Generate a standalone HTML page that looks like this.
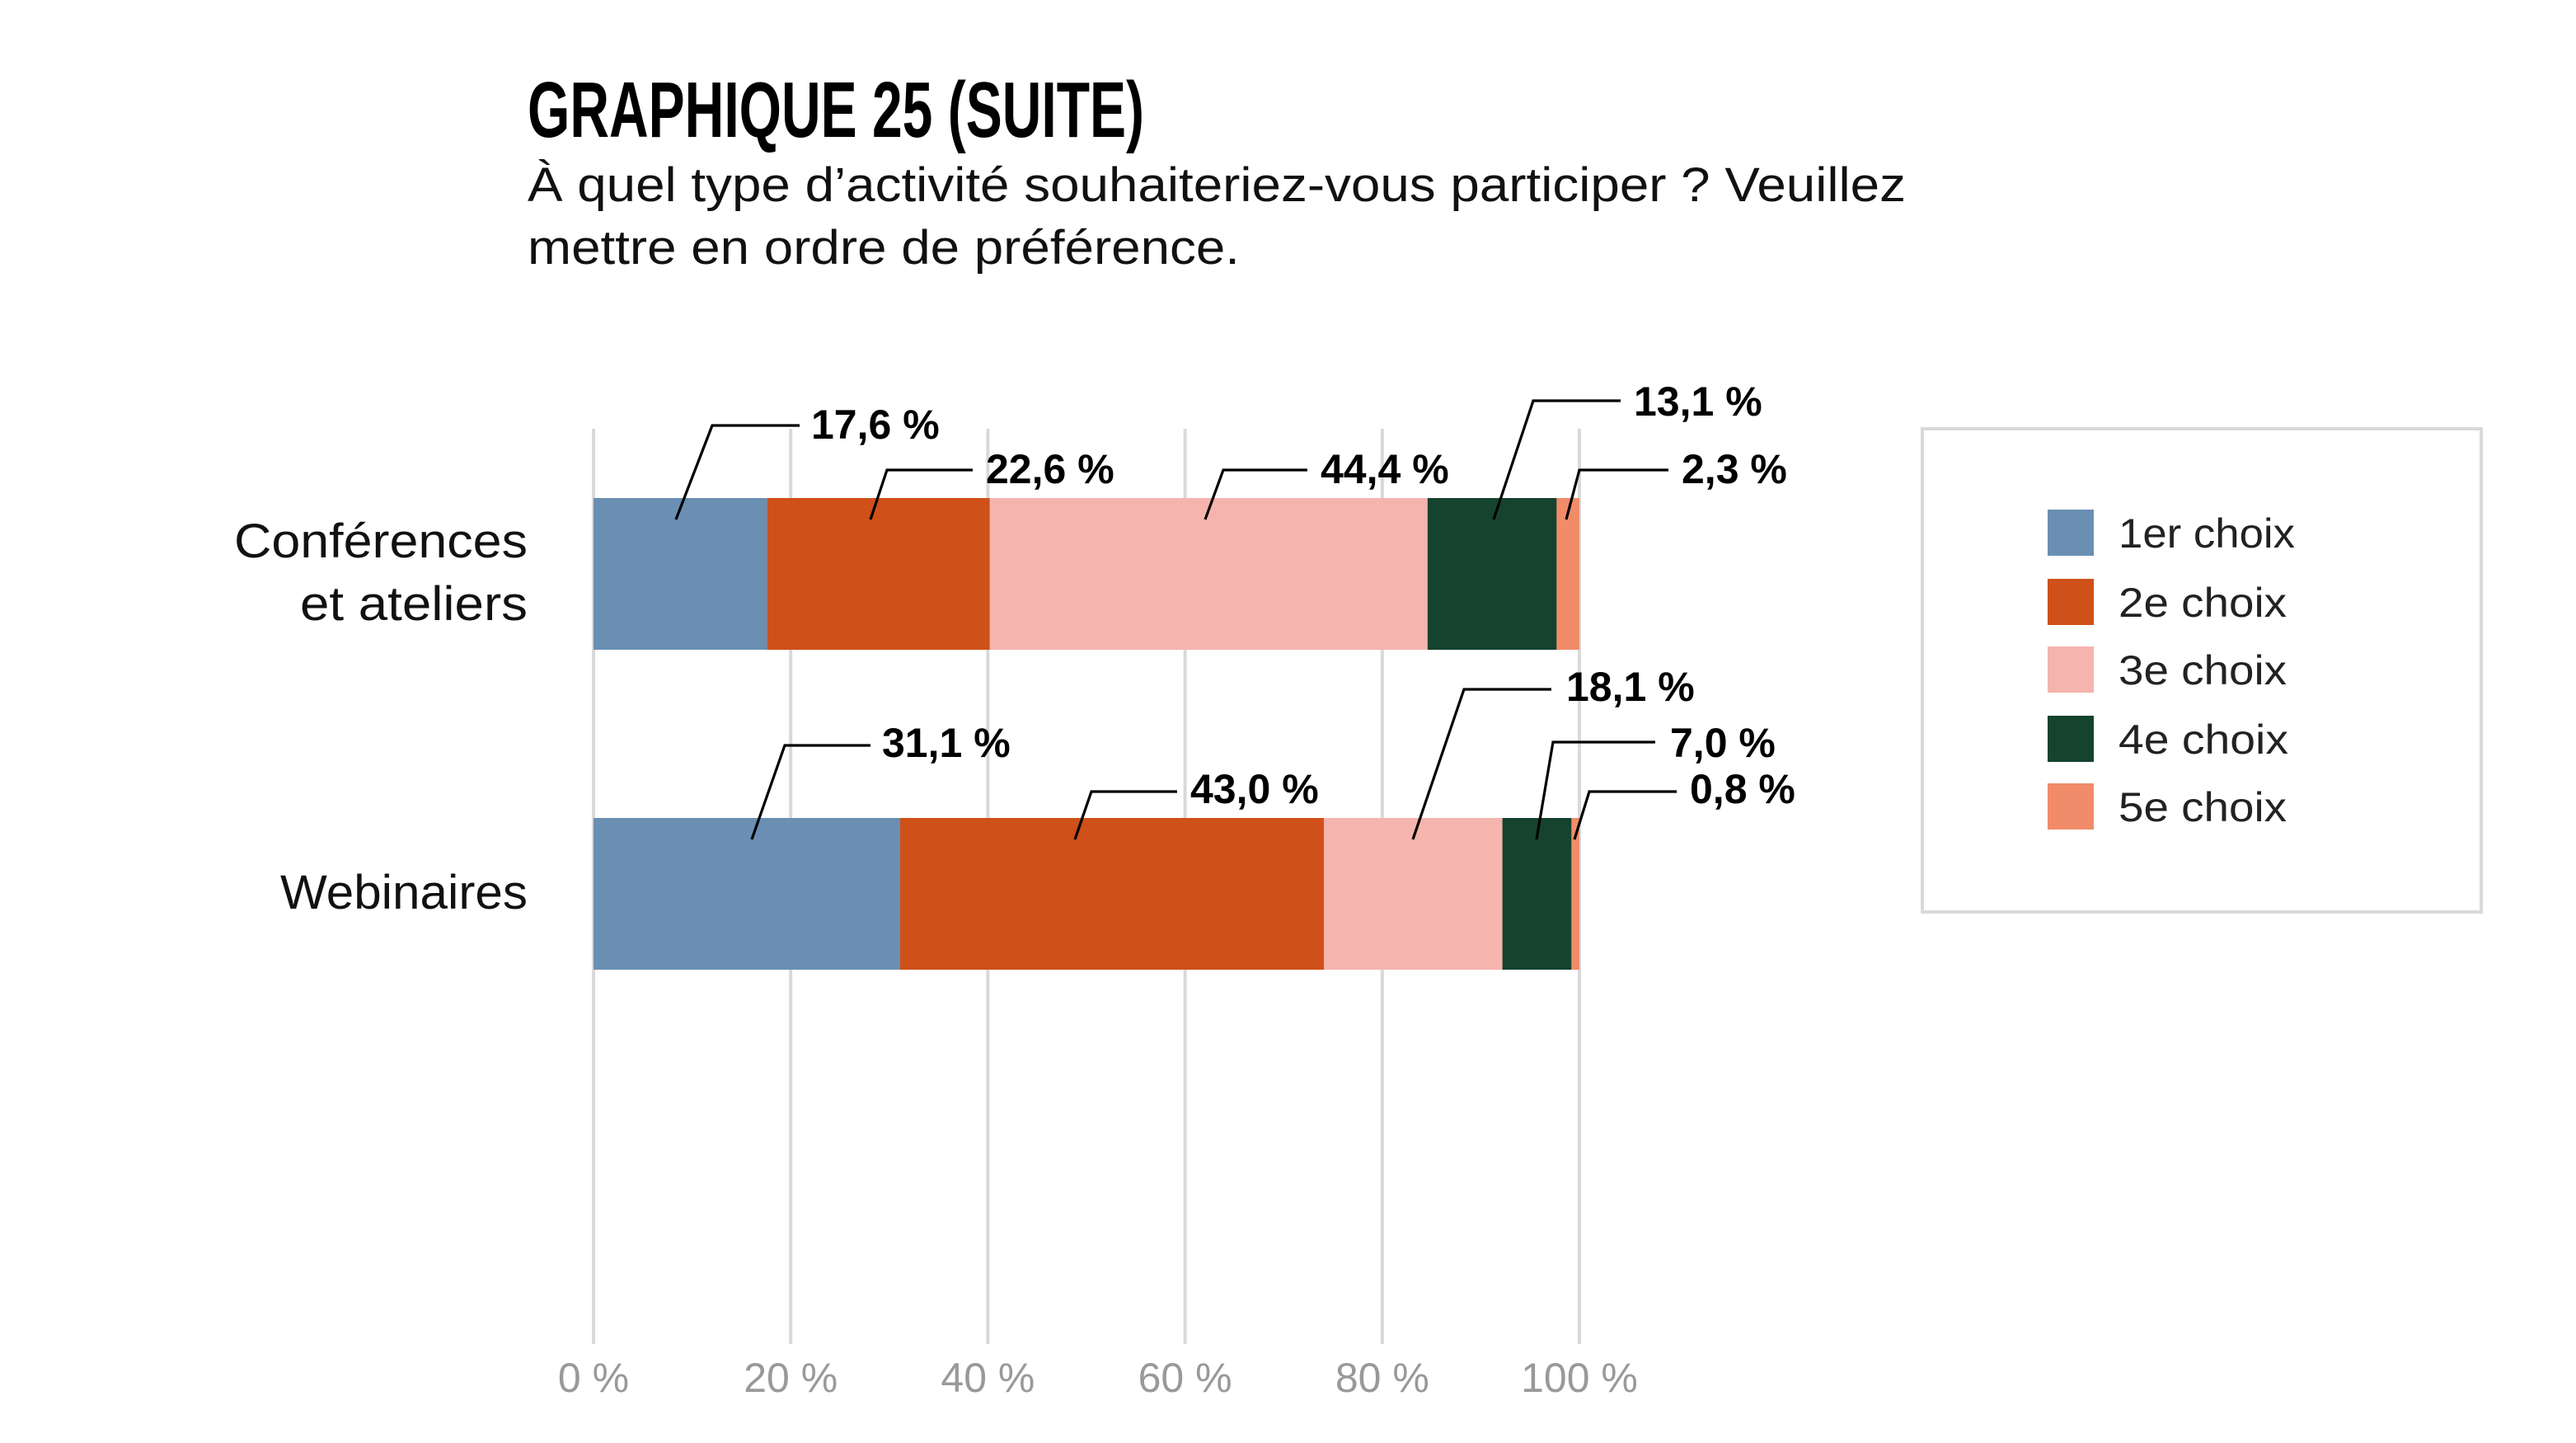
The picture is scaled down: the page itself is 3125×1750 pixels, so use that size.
<!DOCTYPE html>
<html><head><meta charset="utf-8"><style>
html,body{margin:0;padding:0;background:#fff;}
svg{display:block;}
text{font-family:"Liberation Sans",sans-serif;}
</style></head><body>
<svg width="3125" height="1750" viewBox="0 0 1562.5 875" xmlns="http://www.w3.org/2000/svg">
<rect width="1562.5" height="875" fill="#fff"/>
<text x="320" y="83" font-family="Liberation Sans Narrow, Liberation Sans, sans-serif" font-weight="bold" font-size="48" textLength="374" lengthAdjust="spacingAndGlyphs">GRAPHIQUE 25 (SUITE)</text>
<text x="320" y="122" font-size="29" fill="#111" textLength="836" lengthAdjust="spacingAndGlyphs">À quel type d’activité souhaiteriez-vous participer ? Veuillez</text>
<text x="320" y="160" font-size="29" fill="#111" textLength="432" lengthAdjust="spacingAndGlyphs">mettre en ordre de préférence.</text>
<g stroke="#d9d9d9" stroke-width="2">
<line x1="360" y1="260" x2="360" y2="815"/><line x1="479.6" y1="260" x2="479.6" y2="815"/><line x1="599.2" y1="260" x2="599.2" y2="815"/><line x1="718.8" y1="260" x2="718.8" y2="815"/><line x1="838.4" y1="260" x2="838.4" y2="815"/><line x1="958" y1="260" x2="958" y2="815"/>
</g>
<g font-size="25" fill="#999" text-anchor="middle">
<text x="360" y="844">0 %</text><text x="479.6" y="844">20 %</text><text x="599.2" y="844">40 %</text><text x="718.8" y="844">60 %</text><text x="838.4" y="844">80 %</text><text x="958" y="844">100 %</text>
</g>
<rect x="360" y="302" width="105.3" height="92" fill="#6a8fb3"/>
<rect x="465.3" y="302" width="135.1" height="92" fill="#cf5019"/>
<rect x="600.4" y="302" width="265.5" height="92" fill="#f5b4ae"/>
<rect x="865.9" y="302" width="78.3" height="92" fill="#15432e"/>
<rect x="944.2" y="302" width="13.8" height="92" fill="#f08c69"/>
<rect x="360" y="496" width="186" height="92" fill="#6a8fb3"/>
<rect x="546" y="496" width="257.1" height="92" fill="#cf5019"/>
<rect x="803.1" y="496" width="108.2" height="92" fill="#f5b4ae"/>
<rect x="911.3" y="496" width="41.9" height="92" fill="#15432e"/>
<rect x="953.2" y="496" width="4.8" height="92" fill="#f08c69"/>
<g font-size="29" fill="#111">
<text x="142" y="338" textLength="178" lengthAdjust="spacingAndGlyphs">Conférences</text>
<text x="182" y="376" textLength="138" lengthAdjust="spacingAndGlyphs">et ateliers</text>
<text x="170" y="551" textLength="150" lengthAdjust="spacingAndGlyphs">Webinaires</text>
</g>
<g stroke="#000" stroke-width="1.6" fill="none">
<polyline points="410,315 432,258 485,258"/>
<polyline points="528,315 538,285 590,285"/>
<polyline points="731,315 742,285 793,285"/>
<polyline points="906,315 930,243 983,243"/>
<polyline points="950,315 958,285 1012,285"/>
<polyline points="456,509 476,452 528,452"/>
<polyline points="652,509 662,480 714,480"/>
<polyline points="857,509 888,418 941,418"/>
<polyline points="932,509 942,450 1004,450"/>
<polyline points="955,509 964,480 1017,480"/>
</g>
<g font-size="25" font-weight="bold" fill="#000">
<text x="492" y="266">17,6 %</text>
<text x="598" y="293">22,6 %</text>
<text x="801" y="293">44,4 %</text>
<text x="991" y="252">13,1 %</text>
<text x="1020" y="293">2,3 %</text>
<text x="535" y="459">31,1 %</text>
<text x="722" y="487">43,0 %</text>
<text x="950" y="425">18,1 %</text>
<text x="1013" y="459">7,0 %</text>
<text x="1025" y="487">0,8 %</text>
</g>
<rect x="1166" y="260" width="339" height="293" fill="#fff" stroke="#d9d9d9" stroke-width="2"/>
<rect x="1242" y="309" width="28" height="28" fill="#6a8fb3"/>
<rect x="1242" y="351" width="28" height="28" fill="#cf5019"/>
<rect x="1242" y="392" width="28" height="28" fill="#f5b4ae"/>
<rect x="1242" y="434" width="28" height="28" fill="#15432e"/>
<rect x="1242" y="475" width="28" height="28" fill="#f08c69"/>
<g font-size="25" fill="#222">
<text x="1285" y="332" textLength="107" lengthAdjust="spacingAndGlyphs">1er choix</text>
<text x="1285" y="374" textLength="102" lengthAdjust="spacingAndGlyphs">2e choix</text>
<text x="1285" y="415" textLength="102" lengthAdjust="spacingAndGlyphs">3e choix</text>
<text x="1285" y="457" textLength="103" lengthAdjust="spacingAndGlyphs">4e choix</text>
<text x="1285" y="498" textLength="102" lengthAdjust="spacingAndGlyphs">5e choix</text>
</g>
</svg>
</body></html>
